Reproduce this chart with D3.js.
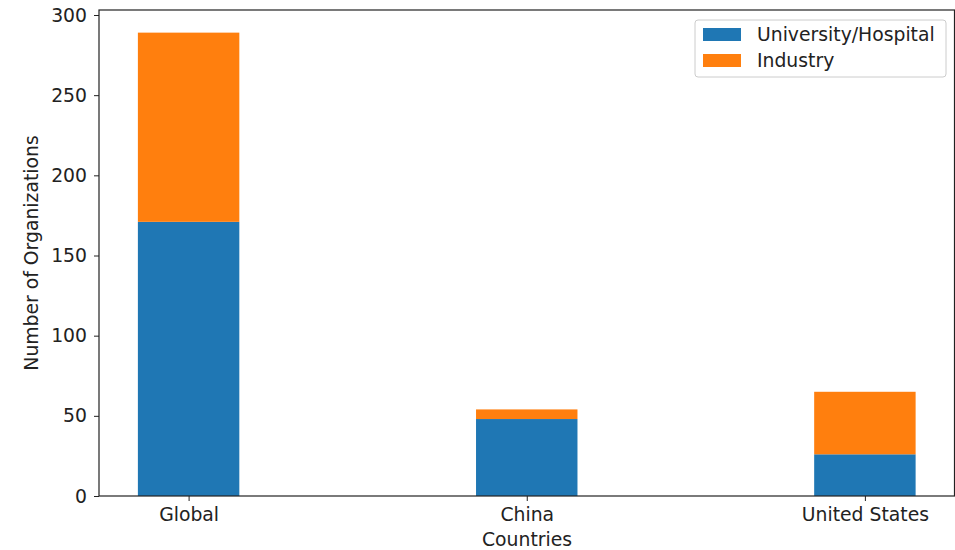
<!DOCTYPE html>
<html>
<head>
<meta charset="utf-8">
<script src="https://cdn.jsdelivr.net/npm/d3@7.9.0/dist/d3.min.js"></script>
<style>
  body { margin: 0; background: #fff; }
  svg { font-family: "DejaVu Sans", sans-serif; }
</style>
</head>
<body>
<svg id="chart" width="955" height="550"></svg>
<script>
const countries = ['Global', 'China', 'United States'];
const university = [171, 48, 26];
const industry = [118, 6, 39];
const seriesNames = ['University/Hospital', 'Industry'];
const colors = ['#1f77b4', '#ff7f0e'];
const yTicks = [0, 50, 100, 150, 200, 250, 300];

const fs = 18.8;
const margin = { left: 99, right: 0.5, top: 10, bottom: 54 };
const width = 955, height = 550;
const svg = d3.select('#chart');

const barW = 0.3;
// matplotlib-style x limits with 5% margins
const x = d3.scaleLinear()
  .domain([-0.265, countries.length - 1 + 0.265])
  .range([margin.left, width - margin.right]);
const y = d3.scaleLinear()
  .domain([0, 300])
  .range([height - margin.bottom, 15]);

const stacked = countries.map((c, i) => [
  { y0: 0, y1: university[i], color: colors[0] },
  { y0: university[i], y1: university[i] + industry[i], color: colors[1] }
]);

stacked.forEach((segs, i) => {
  segs.forEach(s => {
    svg.append('rect')
      .attr('x', x(i - barW / 2))
      .attr('width', x(i + barW / 2) - x(i - barW / 2))
      .attr('y', y(s.y1))
      .attr('height', y(s.y0) - y(s.y1))
      .attr('fill', s.color);
  });
});

// axes
const yAxis = d3.axisLeft(y).tickValues(yTicks).tickSize(5).tickPadding(7);
const gy = svg.append('g').attr('transform', `translate(${margin.left},0)`).call(yAxis);
const xAxis = d3.axisBottom(x).tickValues(countries.map((c, i) => i))
  .tickFormat(i => countries[i]).tickSize(5).tickPadding(6);
const gx = svg.append('g').attr('transform', `translate(0,${height - margin.bottom})`).call(xAxis);
[gx, gy].forEach(g => {
  g.select('.domain').remove();
  g.selectAll('text').attr('font-size', fs).attr('fill', '#222').attr('font-family', 'DejaVu Sans');
  g.selectAll('line').attr('stroke', '#222');
});
gx.selectAll('text').attr('dy', '0.72em');

// frame
svg.append('rect')
  .attr('x', margin.left).attr('y', margin.top)
  .attr('width', width - margin.right - margin.left)
  .attr('height', height - margin.bottom - margin.top)
  .attr('fill', 'none').attr('stroke', '#222').attr('stroke-width', 1.2);

// labels
svg.append('text').attr('x', 527).attr('y', 546)
  .attr('text-anchor', 'middle').attr('font-size', fs).attr('fill', '#222').text('Countries');
svg.append('text').attr('transform', `translate(38,${(margin.top + height - margin.bottom) / 2}) rotate(-90)`)
  .attr('text-anchor', 'middle').attr('font-size', fs).attr('fill', '#222').text('Number of Organizations');

// legend
const lg = svg.append('g').attr('transform', 'translate(695,20)');
lg.append('rect').attr('width', 251).attr('height', 57).attr('rx', 3)
  .attr('fill', '#fff').attr('fill-opacity', 0.8).attr('stroke', '#ccc');
seriesNames.forEach((n, i) => {
  lg.append('rect').attr('x', 8).attr('y', 8 + i * 26).attr('width', 38).attr('height', 13).attr('fill', colors[i]);
  lg.append('text').attr('x', 62).attr('y', 14.5 + i * 26).attr('dy', '0.35em')
    .attr('font-size', fs).attr('fill', '#222').text(n);
});
</script>
</body>
</html>
